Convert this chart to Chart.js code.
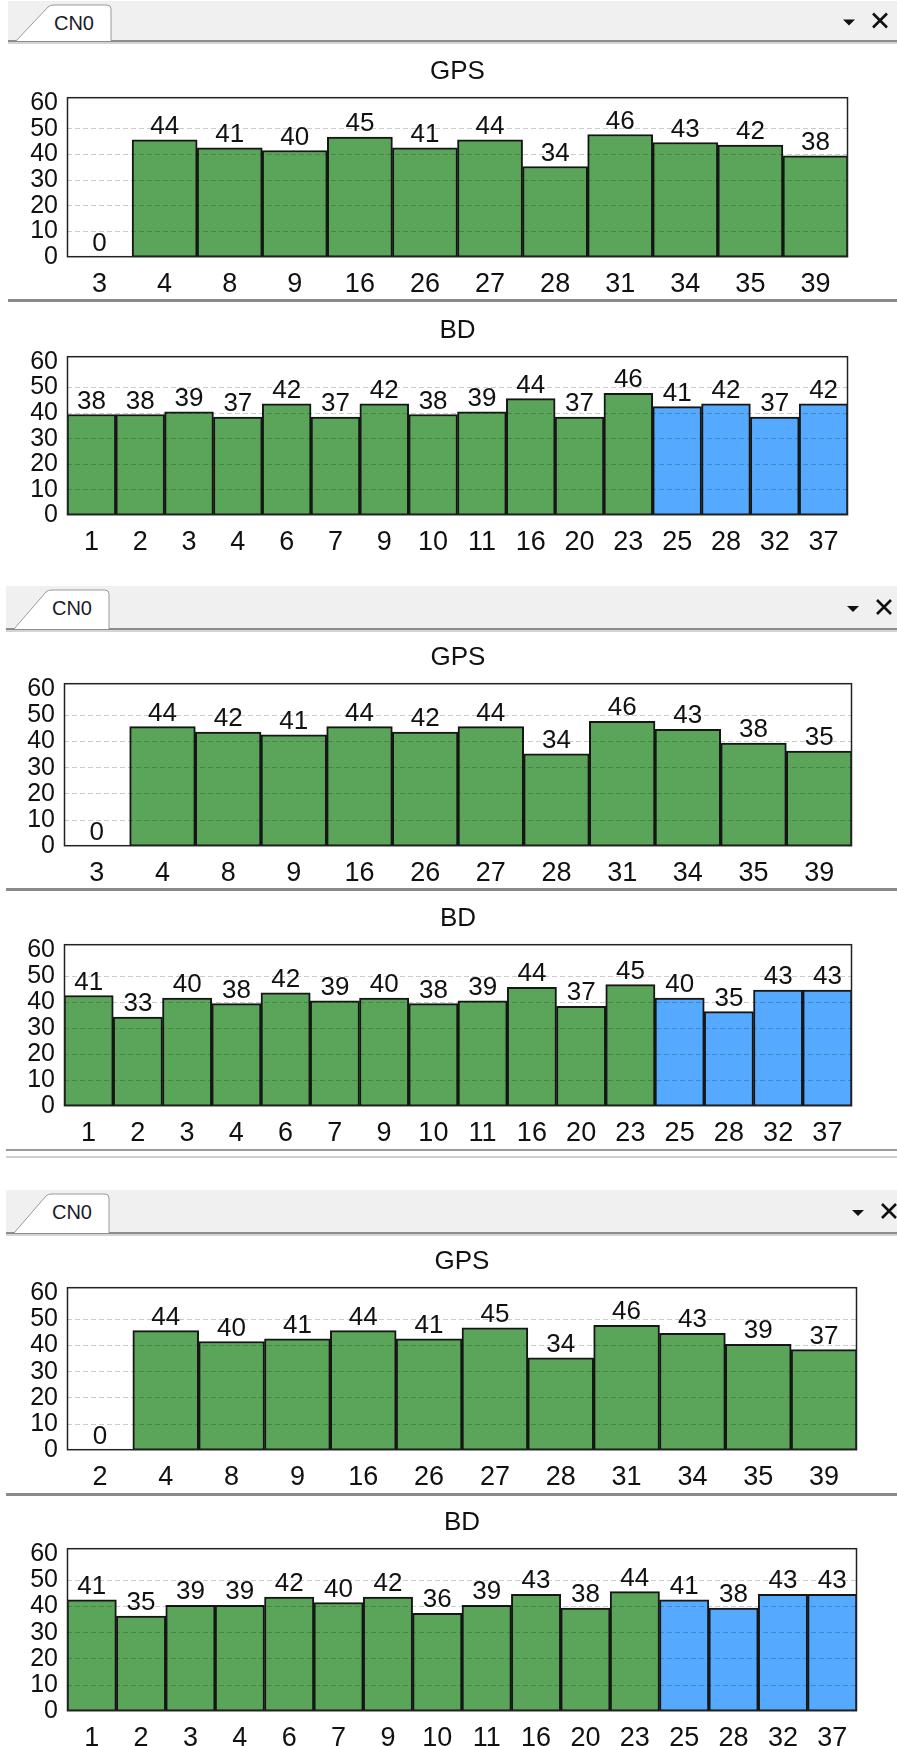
<!DOCTYPE html>
<html>
<head>
<meta charset="utf-8">
<script src="https://cdn.jsdelivr.net/npm/chart.js@4.4.1/dist/chart.umd.min.js"></script>
<style>
	body { margin: 0; background: #fff; width: 897px; height: 1746px; position: relative; overflow: hidden; font-family: "Liberation Sans", Arial, sans-serif; }
	.bar { position: absolute; background: #f0f0f0; border-bottom: 2px solid #8c8c8c; box-shadow: 0 2px 0 #d4d4d4; }
	.sep { position: absolute; height: 3px; background: #8a8a8a; }
	.box { position: absolute; left: 0; width: 897px; }
</style>
</head>
<body>
<script>
// satellites and CN0 values, one set per snapshot
const gpsLabels1 = ["3", "4", "8", "9", "16", "26", "27", "28", "31", "34", "35", "39"];
const gpsValues1 = [0, 44, 41, 40, 45, 41, 44, 34, 46, 43, 42, 38];
const gpsLabels2 = ["3", "4", "8", "9", "16", "26", "27", "28", "31", "34", "35", "39"];
const gpsValues2 = [0, 44, 42, 41, 44, 42, 44, 34, 46, 43, 38, 35];
const gpsLabels3 = ["2", "4", "8", "9", "16", "26", "27", "28", "31", "34", "35", "39"];
const gpsValues3 = [0, 44, 40, 41, 44, 41, 45, 34, 46, 43, 39, 37];

const bdLabels = ["1", "2", "3", "4", "6", "7", "9", "10", "11", "16", "20", "23", "25", "28", "32", "37"];
const bdValues1 = [38, 38, 39, 37, 42, 37, 42, 38, 39, 44, 37, 46, 41, 42, 37, 42];
const bdValues2 = [41, 33, 40, 38, 42, 39, 40, 38, 39, 44, 37, 45, 40, 35, 43, 43];
const bdValues3 = [41, 35, 39, 39, 42, 40, 42, 36, 39, 43, 38, 44, 41, 38, 43, 43];
const bdBlue = ["25", "28", "32", "37"];

const yTicks = [0, 10, 20, 30, 40, 50, 60];

const FONT = '"Liberation Sans", Arial, sans-serif';
const green = "#5aa55a";
const blue = "#55aaff";

function el(cls, css) {
	let d = document.createElement("div");
	d.className = cls;
	d.style.cssText = css;
	document.body.appendChild(d);
	return d;
}

// tab strip with the CN0 tab and the two little buttons
function header(top, left, bottom, dx) {
	let h = bottom - top;
	el("bar", `left:${left}px;top:${top}px;width:${897 - left}px;height:${h}px`);
	let tabTop = 4;
	let svg = `<svg width="897" height="${h + 2}" style="position:absolute;left:0;top:${top}px">
		<path d="M${left + 8} ${h + 1} L${left + 40} ${tabTop + 2} Q${left + 42} ${tabTop} ${left + 46} ${tabTop} L${left + 99} ${tabTop} Q${left + 103} ${tabTop} ${left + 103} ${tabTop + 4} L${left + 103} ${h + 1}"
			fill="#fff" stroke="#9a9a9a" stroke-width="1"/>
		<text x="${left + 66}" y="${tabTop + 25}" text-anchor="middle" font-family='${FONT}' font-size="20" fill="#1a1a2a">CN0</text>
		<path d="M${843 + dx} ${h / 2 - 1} L${855 + dx} ${h / 2 - 1} L${849 + dx} ${h / 2 + 5} Z" fill="#111"/>
		<path d="M${873 + dx} ${h / 2 - 7} L${887 + dx} ${h / 2 + 7} M${887 + dx} ${h / 2 - 7} L${873 + dx} ${h / 2 + 7}" stroke="#111" stroke-width="2.6"/>
	</svg>`;
	let d = document.createElement("div");
	d.innerHTML = svg;
	document.body.appendChild(d.firstElementChild);
}

const frame = {
	id: "frame",
	afterDatasetsDraw(chart) {
		const { ctx, chartArea: a } = chart;
		ctx.save();
		ctx.strokeStyle = "#222";
		ctx.lineWidth = 1.5;
		ctx.strokeRect(a.left + 0.5, a.top + 0.5, a.right - a.left - 1, a.bottom - a.top - 1);
		ctx.restore();
	},
};

const valueLabels = {
	id: "valueLabels",
	afterDraw(chart) {
		const ctx = chart.ctx;
		const data = chart.data.datasets[0].data;
		ctx.save();
		ctx.font = "26px " + FONT;
		ctx.fillStyle = "#111";
		ctx.textAlign = "center";
		ctx.textBaseline = "alphabetic";
		chart.getDatasetMeta(0).data.forEach((bar, i) => {
			ctx.fillText(String(data[i]), bar.x, bar.y - 6);
		});
		ctx.restore();
	},
};

function chart(title, labels, values, b) {
	let top = b.t - 51.2;
	let wrap = el("box", `top:${top}px;height:${b.b - top + 36}px`);
	let cv = document.createElement("canvas");
	wrap.appendChild(cv);
	let colors = labels.map((l) => (title == "BD" && bdBlue.includes(l) ? blue : green));
	new Chart(cv, {
		type: "bar",
		data: {
			labels: labels,
			datasets: [
				{
					data: values,
					backgroundColor: colors,
					borderColor: "#161616",
					borderWidth: 2,
					borderSkipped: false,
					categoryPercentage: 1,
					barPercentage: 1,
				},
			],
		},
		options: {
			responsive: true,
			maintainAspectRatio: false,
			animation: false,
			layout: { padding: { left: 0, right: 897 - b.r, top: 0, bottom: 0 } },
			plugins: {
				legend: { display: false },
				tooltip: { enabled: false },
				title: {
					display: true,
					text: title,
					fullSize: false,
					color: "#111",
					font: { size: 26, family: FONT, weight: "normal" },
					padding: { top: 10, bottom: 10 },
				},
			},
			scales: {
				x: {
					grid: { display: false },
					border: { display: false },
					ticks: { color: "#111", font: { size: 27, family: FONT }, padding: 3, maxRotation: 0, autoSkip: false },
					afterFit: (s) => {
						s.height = 36;
					},
				},
				y: { display: false, min: 0, max: 60 },
				yg: {
					position: "left",
					min: 0,
					max: 62.3,
					afterBuildTicks: (s) => {
						s.ticks = yTicks.map((v) => ({ value: v }));
					},
					ticks: { color: "#111", font: { size: 25, family: FONT }, padding: 9, autoSkip: false },
					grid: {
						z: 1,
						drawTicks: false,
						color: (c) => (c.tick && c.tick.value > 0 && c.tick.value < 60 ? "rgba(0,0,0,0.2)" : "rgba(0,0,0,0)"),
					},
					border: { display: false, dash: [5, 3] },
					afterFit: (s) => {
						s.width = b.l;
					},
				},
			},
		},
		plugins: [frame, valueLabels],
	});
}

// snapshot 1
header(1, 8, 40, 0);
chart("GPS", gpsLabels1, gpsValues1, { l: 67, t: 97, r: 848, b: 257 });
el("sep", "left:8px;top:299px;width:889px");
chart("BD", bdLabels, bdValues1, { l: 67, t: 356, r: 848, b: 515 });

// snapshot 2
header(586, 6, 628, 4);
chart("GPS", gpsLabels2, gpsValues2, { l: 64, t: 683, r: 852, b: 846 });
el("sep", "left:6px;top:888px;width:891px");
chart("BD", bdLabels, bdValues2, { l: 64, t: 944, r: 852, b: 1106 });
el("sep", "left:6px;top:1149px;width:891px;height:2px;background:#9a9a9a");
el("sep", "left:6px;top:1156px;width:891px;height:2px;background:#cfcfcf");

// snapshot 3
header(1190, 6, 1232, 9);
chart("GPS", gpsLabels3, gpsValues3, { l: 67, t: 1287, r: 857, b: 1450 });
el("sep", "left:6px;top:1493px;width:891px");
chart("BD", bdLabels, bdValues3, { l: 67, t: 1548, r: 857, b: 1711 });
</script>
</body>
</html>
